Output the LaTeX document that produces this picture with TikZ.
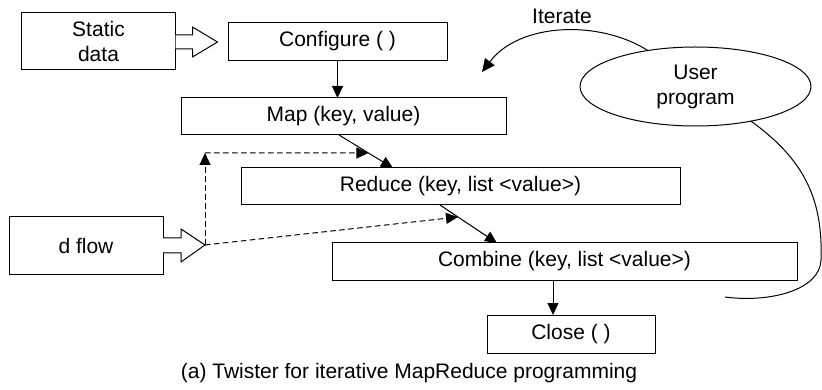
\documentclass[tikz,border=0pt]{standalone}
\usepackage{fontspec}
\setmainfont{Liberation Sans}
\usetikzlibrary{arrows.meta,shapes.geometric,calc}
\begin{document}
\begin{tikzpicture}[x=1pt,y=-1pt,
  line width=1pt, color=black,
  font=\fontsize{21}{25}\selectfont,
  box/.style={draw, rectangle, inner sep=0pt, outer sep=0pt, align=center},
  arr/.style={-{Triangle[length=12pt,width=11pt]}},
  dsh/.style={dash pattern=on 5.5pt off 3.5pt, -{Triangle[length=12pt,width=11pt]}},
  blockarrow/.style={draw, fill=white, line join=miter}
]
\useasboundingbox (0,0) rectangle (822,390);

\node[box, minimum width=154pt, minimum height=57pt] (static) at (98.5,41.5) {Static\\data};
\node[box, minimum width=219pt, minimum height=38pt] (conf) at (337.5,41.5) {Configure ( )};
\node[box, minimum width=325pt, minimum height=37pt] (map) at (343.5,116.5) {Map (key, value)};
\node[box, minimum width=439pt, minimum height=37pt] (red) at (460.5,186.5) {Reduce (key, list <value>)};
\node[box, minimum width=154pt, minimum height=57pt] (dflow) at (86,245.5) {d flow};
\node[box, minimum width=465pt, minimum height=37pt] (comb) at (564.5,261.5) {Combine (key, list <value>)};
\node[box, minimum width=168pt, minimum height=38pt] (close) at (571,334) {Close ( )};
\node[draw, ellipse, inner sep=0pt, outer sep=0pt, minimum width=231pt, minimum height=79pt, align=center] (user) at (695.5,86.5) {User\\program};
\node (iter) at (562,16) {Iterate};
\node (cap) at (409,373) {(a) Twister for iterative MapReduce programming};

% block arrows
\draw[blockarrow] ($(static.east)+(0,-6.5)$) -- ++(17,0) -- ++(0,-8) -- ++(25,15) -- ++(-25,15) -- ++(0,-8) -- ++(-17,0);
\draw[blockarrow] ($(dflow.east)+(0,-7.5)$) -- ++(18,0) -- ++(0,-9) -- ++(24,16) -- ++(-24,17) -- ++(0,-9) -- ++(-18,0);
\coordinate (dtip) at ($(dflow.east)+(42,-0.5)$);
\coordinate (dcorner) at (205,153);

% main flow
\draw[arr] (conf.south) -- (map.north -| conf.south);
\draw[arr] ([xshift=-4.5pt]map.south) -- coordinate[pos=0.545] (m1) ([xshift=-67.5pt]red.north);
\draw[arr] ([xshift=-20.5pt]red.south) -- coordinate[pos=0.316] (r1) ([xshift=-67.5pt]comb.north);
\draw[arr] ([xshift=-11.5pt]comb.south) -- ([xshift=-18pt]close.north);

% dashed flows
\draw[dsh] (dtip) -- (dcorner);
\draw[dsh] (dcorner) -- (m1);
\draw[dsh] (dtip) -- (r1);

% user program curves
\draw[-{Triangle[length=13pt,width=12pt]}] (user.143) .. controls (600,20) and (520,22) .. (482,72);
\draw (user.-32) .. controls (805,160) and (823,200) .. (821,260) .. controls (820,290) and (770,303) .. (725,297);
\end{tikzpicture}
\end{document}
